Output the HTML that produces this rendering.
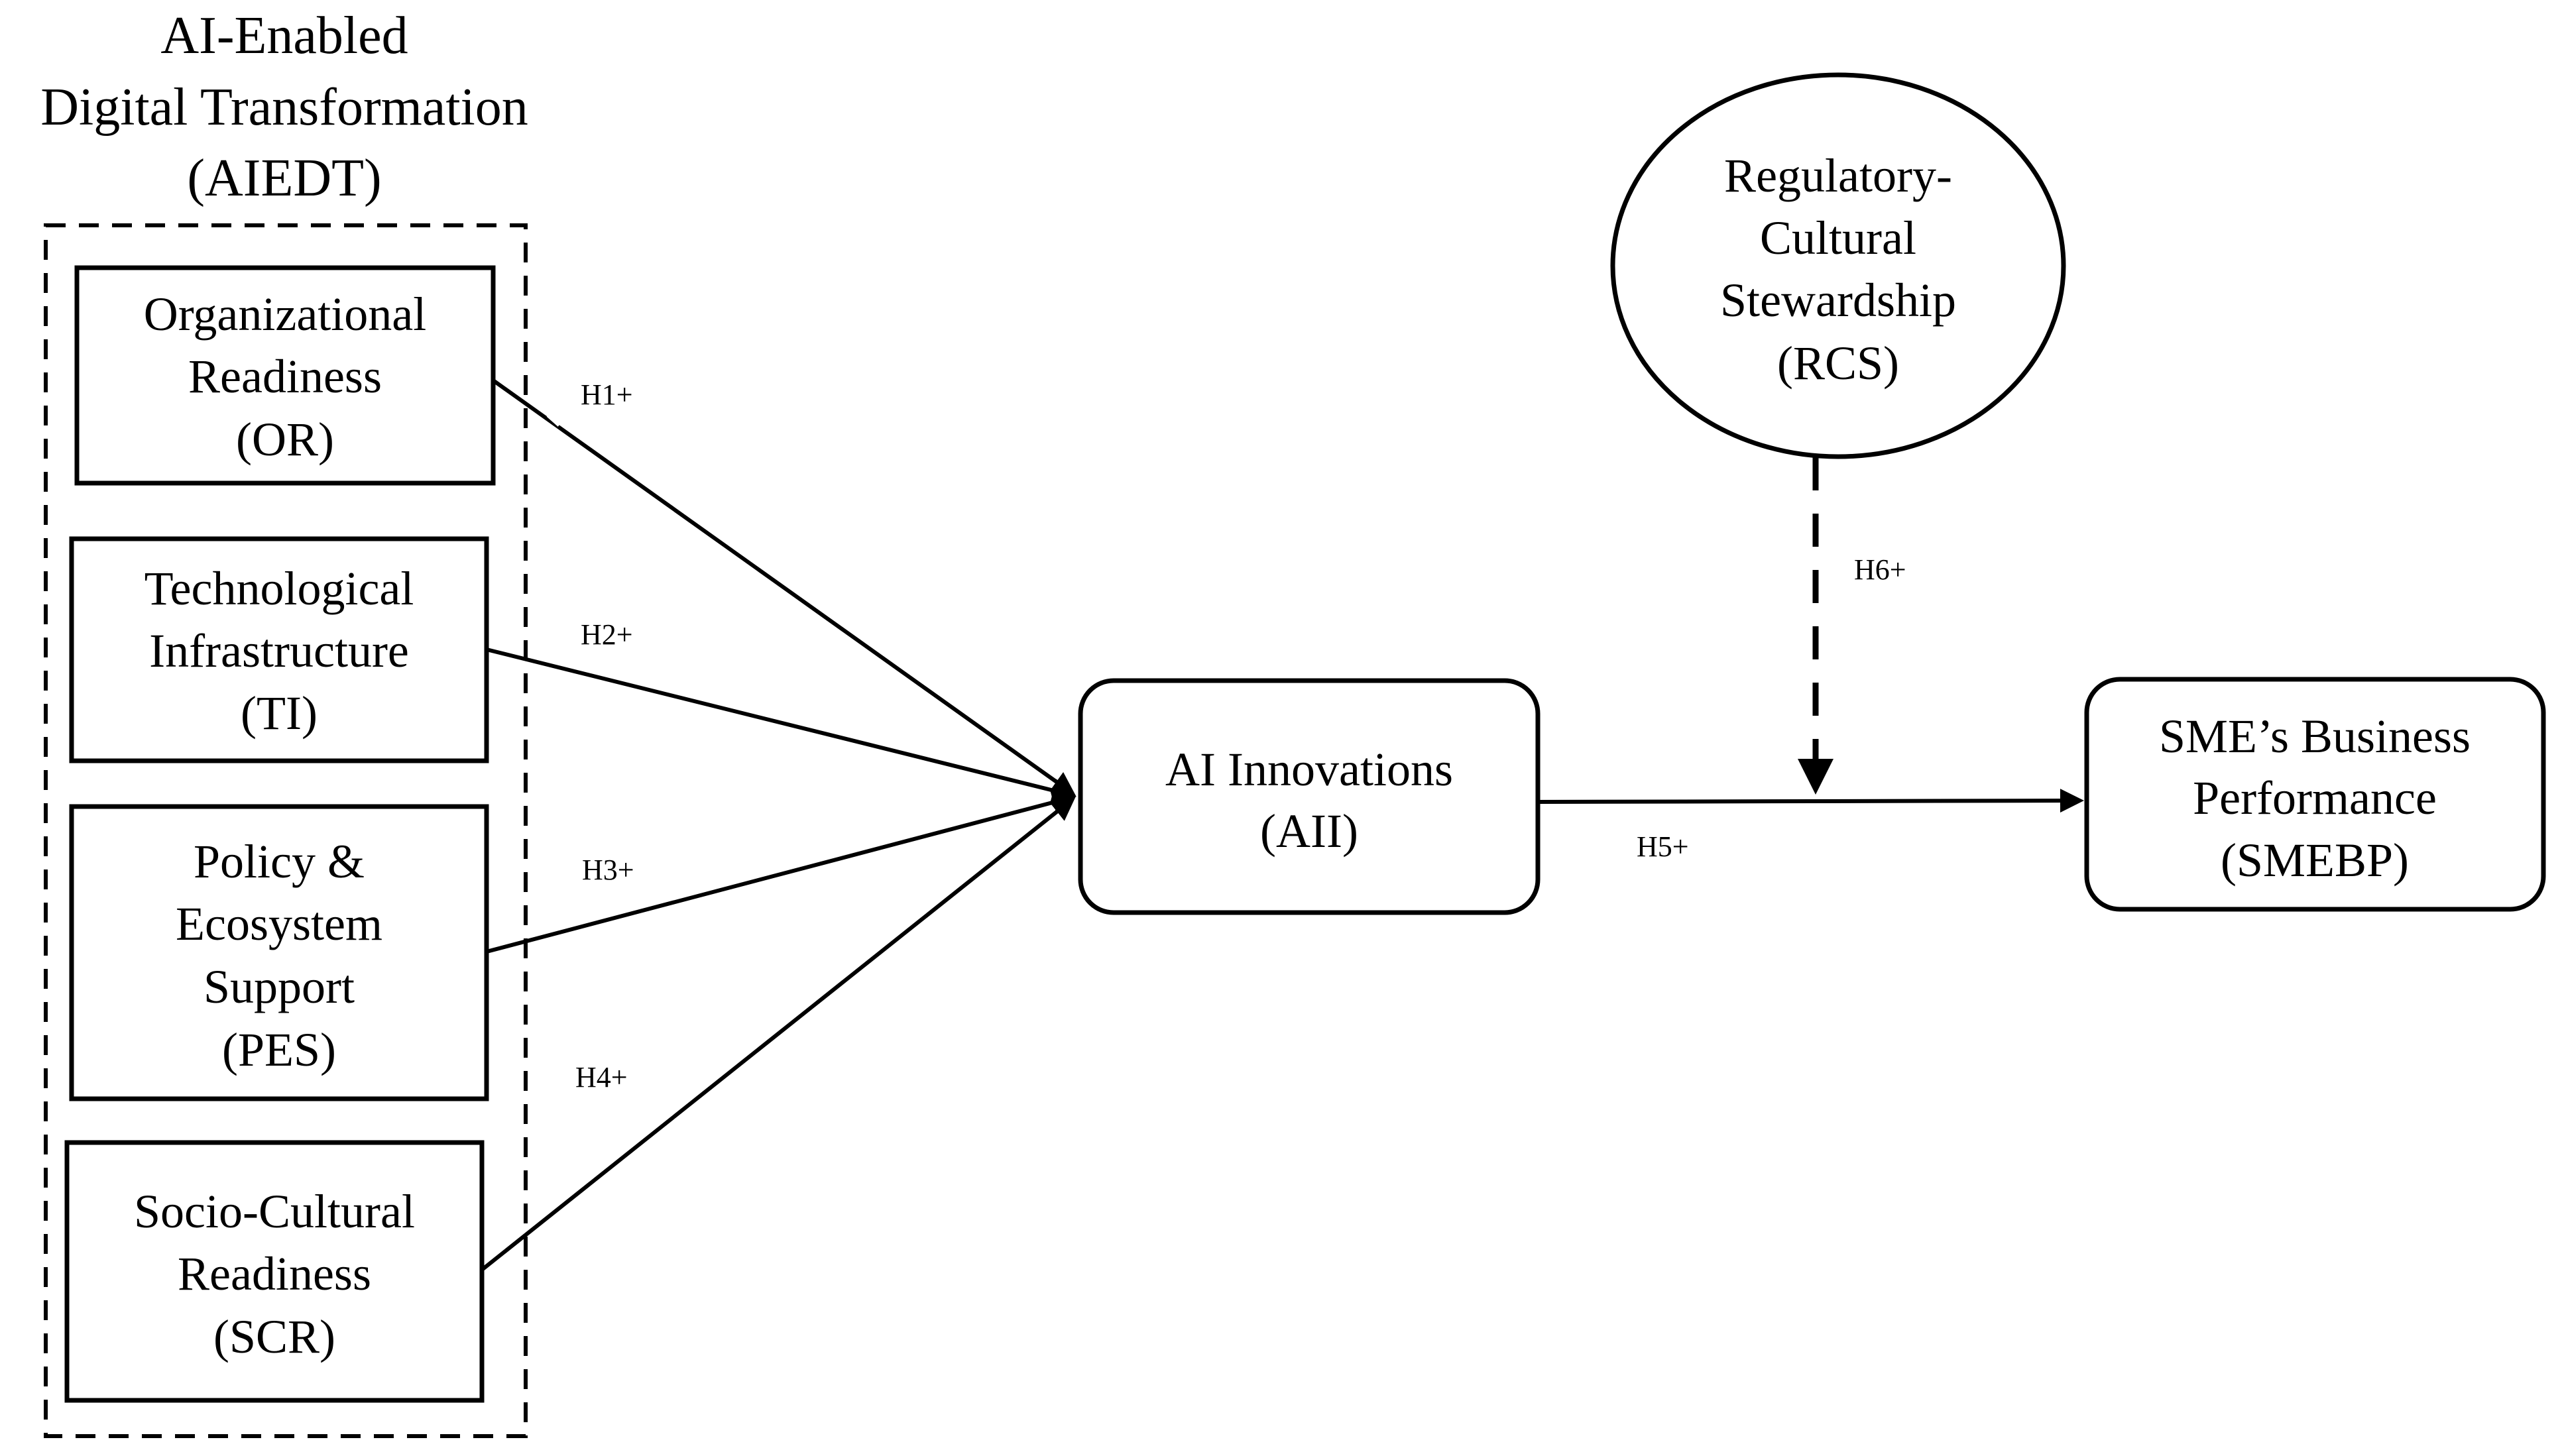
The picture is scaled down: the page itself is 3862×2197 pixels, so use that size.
<!DOCTYPE html>
<html><head><meta charset="utf-8"><style>
html,body{margin:0;padding:0;background:#fff;}
svg{display:block;}
text{font-family:"Liberation Serif",serif;fill:#000;}
</style></head><body>
<svg width="3862" height="2197" viewBox="0 0 3862 2197" xmlns="http://www.w3.org/2000/svg">
<defs>
<marker id="ah" markerWidth="6" markerHeight="6" refX="5" refY="3" orient="auto" markerUnits="strokeWidth">
<path d="M0,0 L6,3 L0,6 z" fill="#000"/>
</marker>
</defs>
<rect width="3862" height="2197" fill="#fff"/>
<g text-anchor="middle" font-size="80">
<text x="429" y="80">AI-Enabled</text>
<text x="429" y="188">Digital Transformation</text>
<text x="429" y="295">(AIEDT)</text>
</g>
<rect x="69" y="340" width="724" height="1827" fill="none" stroke="#000" stroke-width="6" stroke-dasharray="30,20"/>
<g fill="#fff" stroke="#000" stroke-width="7">
<rect x="116" y="404" width="628" height="325"/>
<rect x="108" y="813" width="626" height="335"/>
<rect x="108" y="1217" width="626" height="441"/>
<rect x="101" y="1724" width="626" height="389"/>
<rect x="1630" y="1027" width="690" height="350" rx="50"/>
<rect x="3148" y="1025" width="689" height="347" rx="50"/>
<ellipse cx="2773" cy="401" rx="340" ry="288"/>
</g>
<g text-anchor="middle" font-size="72">
<text x="430" y="498">Organizational</text>
<text x="430" y="592">Readiness</text>
<text x="430" y="687">(OR)</text>
<text x="421" y="912">Technological</text>
<text x="421" y="1006">Infrastructure</text>
<text x="421" y="1100">(TI)</text>
<text x="421" y="1324">Policy &amp;</text>
<text x="421" y="1418">Ecosystem</text>
<text x="421" y="1513">Support</text>
<text x="421" y="1608">(PES)</text>
<text x="414" y="1852">Socio-Cultural</text>
<text x="414" y="1946">Readiness</text>
<text x="414" y="2041">(SCR)</text>
<text x="1975" y="1185">AI Innovations</text>
<text x="1975" y="1278">(AII)</text>
<text x="3492" y="1135">SME’s Business</text>
<text x="3492" y="1228">Performance</text>
<text x="3492" y="1322">(SMEBP)</text>
<text x="2773" y="289">Regulatory-</text>
<text x="2773" y="383">Cultural</text>
<text x="2773" y="477">Stewardship</text>
<text x="2773" y="572">(RCS)</text>
</g>
<g stroke="#000" stroke-width="6" fill="none">
<line x1="744" y1="574" x2="1618" y2="1197" marker-end="url(#ah)"/>
<line x1="734" y1="980" x2="1618" y2="1200" marker-end="url(#ah)"/>
<line x1="734" y1="1436" x2="1618" y2="1203" marker-end="url(#ah)"/>
<line x1="727" y1="1916" x2="1618" y2="1206" marker-end="url(#ah)"/>
<line x1="2320" y1="1210" x2="3138" y2="1208" marker-end="url(#ah)"/>
<line x1="2739" y1="690" x2="2739" y2="1190" stroke-width="9" stroke-dasharray="50,35" marker-end="url(#ah)"/>
</g>
<line x1="828" y1="625" x2="845" y2="640" stroke="#fff" stroke-width="10"/>
<g font-size="44">
<text x="876" y="610">H1+</text>
<text x="876" y="972">H2+</text>
<text x="878" y="1327">H3+</text>
<text x="868" y="1640">H4+</text>
<text x="2797" y="874">H6+</text>
<text x="2469" y="1292">H5+</text>
</g>
</svg>
</body></html>
